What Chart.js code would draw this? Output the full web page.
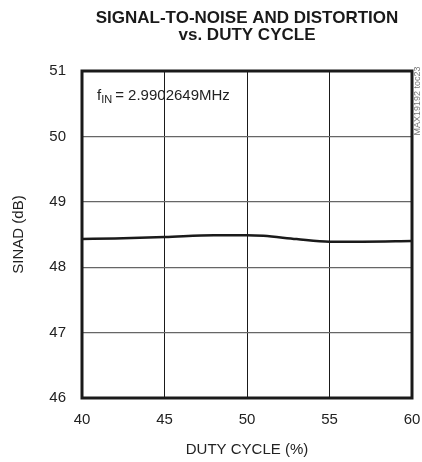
<!DOCTYPE html>
<html>
<head>
<meta charset="utf-8">
<script src="https://cdn.jsdelivr.net/npm/chart.js@4"></script>
<style>
  html, body { margin: 0; padding: 0; background: #fff; }
  #wrap { width: 422px; height: 462px; }
</style>
</head>
<body>
<div id="wrap"><canvas id="chart"></canvas></div>
<script>
const dutyCycle = [40, 42, 45, 48, 50, 51, 53, 55, 57, 60];
const sinad = [48.43, 48.44, 48.46, 48.49, 48.49, 48.48, 48.43, 48.39, 48.39, 48.40];
const xTicks = [40, 45, 50, 55, 60];
const yTicks = [46, 47, 48, 49, 50, 51];

const FONT = "'Liberation Sans Narrow', 'Liberation Sans', Arial, sans-serif";

// frame, annotation, part-number tag
const extras = {
  id: "extras",
  afterDraw(chart) {
    const { ctx, chartArea: a } = chart;
    ctx.save();
    ctx.strokeStyle = "#1a1a1a";
    ctx.lineWidth = 3;
    ctx.strokeRect(a.left, a.top, a.right - a.left, a.bottom - a.top);

    ctx.fillStyle = "#222";
    ctx.textBaseline = "alphabetic";
    ctx.font = "15px " + FONT;
    let x = 97, y = 100;
    ctx.fillText("f", x, y);
    x += ctx.measureText("f").width;
    ctx.font = "11px " + FONT;
    ctx.fillText("IN", x, y + 3);
    x += ctx.measureText("IN").width + 3;
    ctx.font = "15px " + FONT;
    ctx.fillText("= 2.9902649MHz", x, y);

    ctx.translate(418, 101);
    ctx.rotate(-Math.PI / 2);
    ctx.font = "9px " + FONT;
    ctx.fillStyle = "#777";
    ctx.textAlign = "center";
    ctx.textBaseline = "middle";
    ctx.fillText("MAX19192 toc23", 0, 0);
    ctx.restore();
  }
};

new Chart(document.getElementById("chart"), {
  type: "line",
  data: {
    datasets: [{
      data: dutyCycle.map((d, i) => ({ x: d, y: sinad[i] })),
      borderColor: "#1a1a1a",
      borderWidth: 2.5,
      pointRadius: 0,
      cubicInterpolationMode: "monotone",
      fill: false
    }]
  },
  options: {
    responsive: true,
    maintainAspectRatio: false,
    animation: false,
    layout: { padding: { left: 0, right: 10, top: 0, bottom: 0 } },
    plugins: {
      legend: { display: false },
      tooltip: { enabled: false },
      title: {
        display: true,
        fullSize: false,
        text: ["SIGNAL-TO-NOISE AND DISTORTION", "vs. DUTY CYCLE"],
        color: "#1a1a1a",
        font: { family: FONT, size: 17, weight: "bold", lineHeight: 1.0 },
        padding: { top: 10, bottom: 27 }
      }
    },
    scales: {
      x: {
        type: "linear",
        min: 40, max: 60,
        afterBuildTicks: (s) => { s.ticks = xTicks.map((v) => ({ value: v })); },
        afterFit: (s) => { s.height = 64; s.paddingLeft = 0; s.paddingRight = 0; },
        grid: { color: "#1a1a1a", lineWidth: 1, drawTicks: false },
        border: { display: false },
        ticks: { color: "#222", font: { family: FONT, size: 15 }, padding: 13 },
        title: { display: true, text: "DUTY CYCLE (%)", color: "#222", font: { family: FONT, size: 15 }, padding: { top: 4, bottom: 3 } }
      },
      y: {
        min: 46, max: 51,
        afterBuildTicks: (s) => { s.ticks = yTicks.map((v) => ({ value: v })); },
        afterFit: (s) => { s.width = 82; s.paddingTop = 0; s.paddingBottom = 0; },
        grid: { color: "#666", lineWidth: 1.3, drawTicks: false },
        border: { display: false },
        ticks: { color: "#222", font: { family: FONT, size: 15 }, padding: 16 },
        title: { display: true, text: "SINAD (dB)", color: "#222", font: { family: FONT, size: 15 }, padding: { top: 10, bottom: 4 } }
      }
    }
  },
  plugins: [extras]
});
</script>
</body>
</html>
